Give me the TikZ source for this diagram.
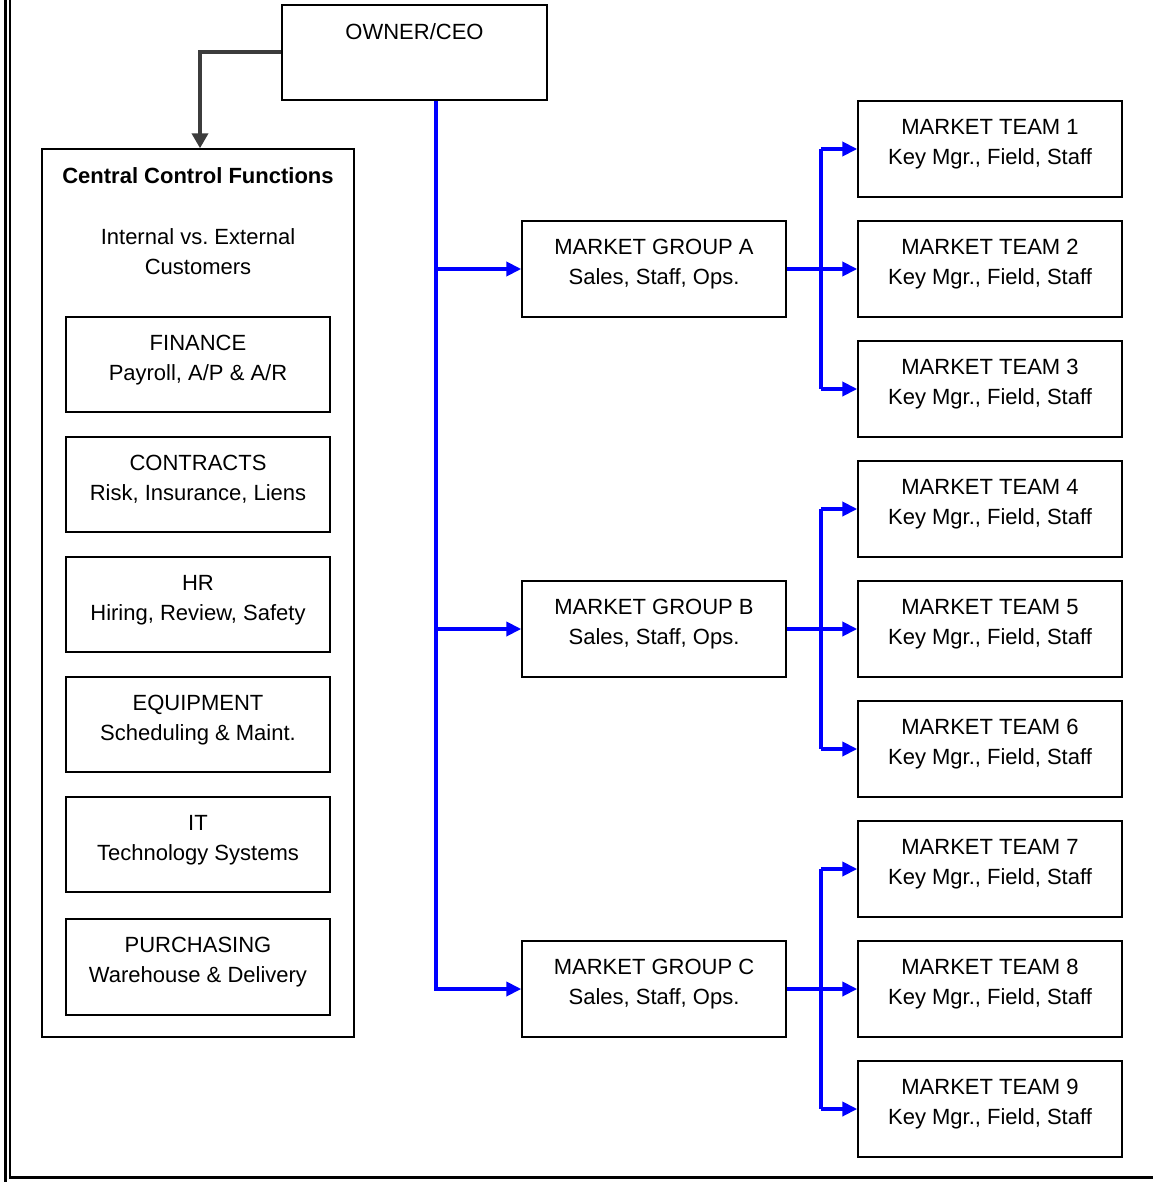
\documentclass[tikz,border=0pt]{standalone}
\usepackage{fontspec}
\setmainfont{Liberation Sans}
\usetikzlibrary{arrows.meta}
\definecolor{arrgray}{RGB}{60,60,60}
\definecolor{lineblue}{RGB}{0,0,255}
\begin{document}
\begin{tikzpicture}[x=1pt,y=-1pt,
  every node/.style={font=\fontsize{22}{30}\selectfont},
  box/.style={draw, line width=1.4pt, minimum width=264pt, minimum height=95pt, inner sep=0pt},
  lbl/.style={anchor=north, inner sep=0pt, yshift=-19pt, align=center, font=\fontsize{22}{30}\selectfont},
  bl/.style={draw=lineblue, line width=4pt},
  blarr/.style={bl, -{Triangle[length=15pt,width=14pt]}},
  grarr/.style={draw=arrgray, line width=4pt, -{Triangle[length=15pt,width=16pt]}}]
\useasboundingbox (0,0) rectangle (1153,1182);
% frame
\draw[line width=2.6pt] (5.3,0) -- (5.3,1182);
\draw[line width=2.4pt] (10.2,0) -- (10.2,1177.5) -- (1153,1177.5);
% owner
\node[box, minimum width=265pt, label={[lbl]north:OWNER/CEO}] (ceo) at (414.5,52.5) {};
% central control
\node[draw, line width=1.4pt, minimum width=312pt, minimum height=888pt, inner sep=0pt] (ccf) at (198,593) {};
\node[font=\fontsize{22}{30}\selectfont\bfseries, inner sep=0pt] (ccft) at (198,176) {Central Control Functions};
\node[align=center, inner sep=0pt] (cust) at (198,252) {Internal vs.\ External\\Customers};
\node[box, label={[lbl]north:FINANCE\\Payroll, A/P \& A/R}] (fin) at (198,364.5) {};
\node[box, label={[lbl]north:CONTRACTS\\Risk, Insurance, Liens}] (con) at (198,484.5) {};
\node[box, label={[lbl]north:HR\\Hiring, Review, Safety}] (hr) at (198,604.5) {};
\node[box, label={[lbl]north:EQUIPMENT\\Scheduling \& Maint.}] (eq) at (198,724.5) {};
\node[box, label={[lbl]north:IT\\Technology Systems}] (it) at (198,844.5) {};
\node[box, minimum height=96pt, label={[lbl]north:PURCHASING\\Warehouse \& Delivery}] (pur) at (198,967) {};
% groups
\node[box, minimum height=96pt, label={[lbl]north:MARKET GROUP A\\Sales, Staff, Ops.}] (gA) at (654,269) {};
\node[box, minimum height=96pt, label={[lbl]north:MARKET GROUP B\\Sales, Staff, Ops.}] (gB) at (654,629) {};
\node[box, minimum height=96pt, label={[lbl]north:MARKET GROUP C\\Sales, Staff, Ops.}] (gC) at (654,989) {};
% teams
\foreach \i in {1,...,9}{
  \node[box, minimum height=96pt, label={[lbl]north:MARKET TEAM \i\\Key Mgr., Field, Staff}] (t\i) at (990,{149+120*(\i-1)}) {};
}
% gray connector
\draw[grarr] (ceo.west) -| ([xshift=2pt]ccf.north);
% blue trunk
\coordinate (tk) at (436,0);
\coordinate (rx) at (821,0);
\draw[bl] (ceo.south -| tk) -- ([yshift=-2pt]tk |- gC.west);
\foreach \g in {gA,gB,gC}{
  \draw[blarr] (tk |- \g.west) -- (\g.west);
}
% right branches
\draw[bl] (t1.west -| rx) -- (t3.west -| rx);
\draw[blarr] (gA.east) -- (t2.west);
\draw[blarr] (t1.west -| rx) -- (t1.west);
\draw[blarr] (t3.west -| rx) -- (t3.west);
\draw[bl] (t4.west -| rx) -- (t6.west -| rx);
\draw[blarr] (gB.east) -- (t5.west);
\draw[blarr] (t4.west -| rx) -- (t4.west);
\draw[blarr] (t6.west -| rx) -- (t6.west);
\draw[bl] (t7.west -| rx) -- (t9.west -| rx);
\draw[blarr] (gC.east) -- (t8.west);
\draw[blarr] (t7.west -| rx) -- (t7.west);
\draw[blarr] (t9.west -| rx) -- (t9.west);
\end{tikzpicture}
\end{document}
